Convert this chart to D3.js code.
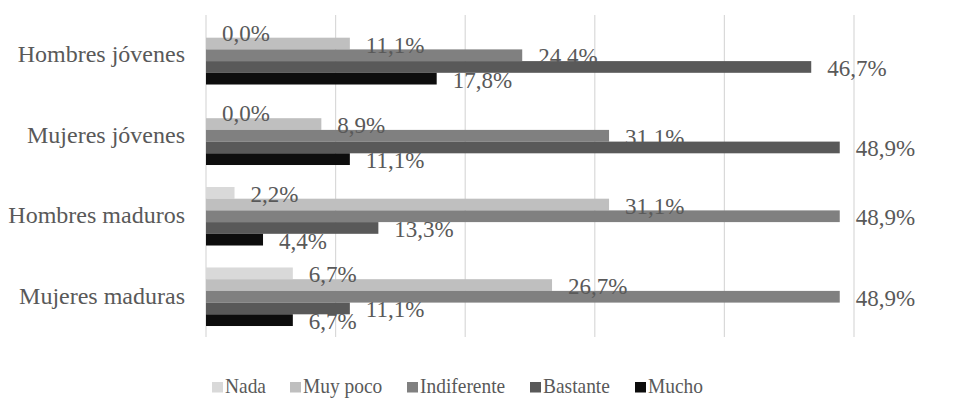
<!DOCTYPE html>
<html>
<head>
<meta charset="utf-8">
<script src="https://cdn.jsdelivr.net/npm/d3@7"></script>
<style>
  html, body { margin: 0; padding: 0; background: #fff; }
  svg { display: block; }
</style>
</head>
<body>
<svg id="chart" width="971" height="398"></svg>
<script>
// Groups (top to bottom) and the answer levels shown inside each group
const categories = ["Hombres jóvenes", "Mujeres jóvenes", "Hombres maduros", "Mujeres maduras"];
const seriesNames = ["Nada", "Muy poco", "Indiferente", "Bastante", "Mucho"];
const seriesColors = ["#d9d9d9", "#bfbfbf", "#808080", "#595959", "#0d0d0d"];

// Percentages per level, in the order of `categories`
const nada        = [0.0, 0.0, 2.2, 6.7];
const muyPoco     = [11.1, 8.9, 31.1, 26.7];
const indiferente = [24.4, 31.1, 48.9, 48.9];
const bastante    = [46.7, 48.9, 13.3, 11.1];
const mucho       = [17.8, 11.1, 4.4, 6.7];
const seriesValues = [nada, muyPoco, indiferente, bastante, mucho];

const gridTicks = [0, 10, 20, 30, 40, 50];

const FONT = "\"Liberation Serif\"";
const TEXT_COLOR = "#595959";
const svg = d3.select("#chart");
const plot = { left: 206, right: 854, top: 15, bottom: 337 };

const x = d3.scaleLinear().domain([0, 50]).range([plot.left, plot.right]);
const y0 = d3.scaleBand().domain(categories).range([plot.top, plot.bottom]).paddingInner(0.273).paddingOuter(0.1365);
const y1 = d3.scaleBand().domain(seriesNames).range([0, y0.bandwidth()]);

const fmt = v => v.toFixed(1).replace(".", ",") + "%";

// vertical gridlines
svg.append("g")
  .selectAll("line")
  .data(gridTicks.slice(1))
  .join("line")
  .attr("x1", d => x(d)).attr("x2", d => x(d))
  .attr("y1", plot.top).attr("y2", plot.bottom)
  .attr("stroke", "#d9d9d9").attr("stroke-width", 1.2);

// category axis line
svg.append("line")
  .attr("x1", x(0)).attr("x2", x(0))
  .attr("y1", plot.top).attr("y2", plot.bottom)
  .attr("stroke", "#d9d9d9").attr("stroke-width", 1.2);

// bars
const groups = svg.append("g").selectAll("g")
  .data(categories)
  .join("g")
  .attr("transform", d => `translate(0,${y0(d)})`);

groups.selectAll("rect")
  .data((c, ci) => seriesNames.map((s, si) => ({ s, si, v: seriesValues[si][ci] })))
  .join("rect")
  .attr("x", x(0))
  .attr("y", d => y1(d.s))
  .attr("width", d => x(d.v) - x(0))
  .attr("height", y1.bandwidth())
  .attr("fill", d => seriesColors[d.si]);

// value labels
groups.selectAll("text")
  .data((c, ci) => seriesNames.map((s, si) => ({ s, si, v: seriesValues[si][ci] })))
  .join("text")
  .attr("x", d => x(d.v) + 16)
  .attr("y", d => y1(d.s) + y1.bandwidth() / 2 + 9)
  .style("font-family", FONT)
  .style("font-size", "23px")
  .style("fill", TEXT_COLOR)
  .text(d => fmt(d.v));

// category labels
const yAxis = d3.axisLeft(y0).tickSize(0).tickPadding(21);
const ya = svg.append("g").attr("transform", `translate(${x(0)},0)`).call(yAxis);
ya.select(".domain").remove();
ya.selectAll("text")
  .style("font-family", FONT)
  .style("font-size", "24px")
  .style("fill", TEXT_COLOR)
  .attr("dy", "0.3em");

// legend (narrow lettering)
const legendX = [212, 290, 407, 530, 635];
const legend = svg.append("g").selectAll("g")
  .data(seriesNames)
  .join("g")
  .attr("transform", (d, i) => `translate(${legendX[i]},382)`);
legend.append("rect")
  .attr("width", 11).attr("height", 10.5)
  .attr("fill", (d, i) => seriesColors[i]);
legend.append("text")
  .attr("transform", "translate(13,11) scale(0.9,1)")
  .style("font-family", FONT)
  .style("font-size", "21.6px")
  .style("fill", TEXT_COLOR)
  .text(d => d);
</script>
</body>
</html>
